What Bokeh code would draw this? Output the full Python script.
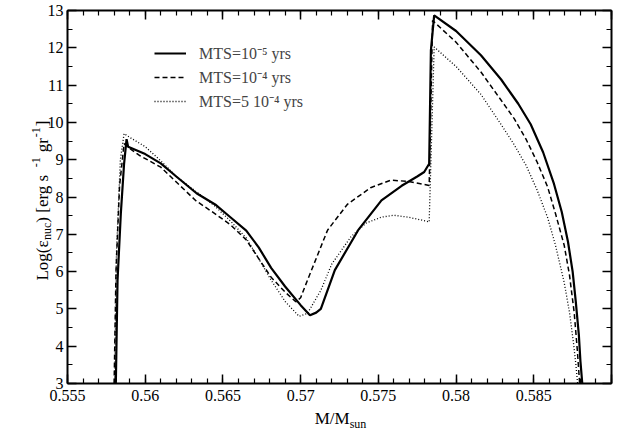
from math import pi
from bokeh.plotting import figure
from bokeh.models import Range1d, LinearAxis, FixedTicker, Label, Legend, LegendItem
from bokeh.embed import file_html
from bokeh.resources import INLINE

# ---------------- data ----------------
x_ticks = [0.555, 0.56, 0.565, 0.57, 0.575, 0.58, 0.585, 0.59]
x_tick_labels = ["0.555", "0.56", "0.565", "0.57", "0.575", "0.58", "0.585", ""]
y_ticks = [3, 4, 5, 6, 7, 8, 9, 10, 11, 12, 13]

# MTS = 1e-5 yrs (solid)
x_a = [0.55811, 0.55822, 0.55843, 0.55864, 0.55880, 0.55890, 0.5600, 0.5610, 0.5620,
       0.5633, 0.5645, 0.5655, 0.5665, 0.5673, 0.5681, 0.5690, 0.5700, 0.5706, 0.5710,
       0.5713, 0.5722, 0.5737, 0.5752, 0.5765, 0.5775, 0.57795, 0.57827, 0.57838,
       0.57859, 0.5800, 0.5816, 0.5829, 0.5840, 0.5848, 0.5856, 0.5863, 0.5868, 0.5872,
       0.5875, 0.5877, 0.5879, 0.5880, 0.58812]
y_a = [3.0, 5.77, 7.55, 8.89, 9.55, 9.35, 9.15, 8.9, 8.55,
       8.1, 7.8, 7.45, 7.1, 6.65, 6.1, 5.6, 5.1, 4.83, 4.9,
       5.0, 6.04, 7.11, 7.91, 8.3, 8.55, 8.67, 8.89, 11.93,
       12.87, 12.45, 11.8, 11.15, 10.5, 9.95, 9.2, 8.35, 7.6, 6.8,
       6.0, 5.2, 4.3, 3.6, 3.0]

# MTS = 1e-4 yrs (dashed)
x_b = [0.55800, 0.55812, 0.55835, 0.55864, 0.5590, 0.55961, 0.5610, 0.5620, 0.56326,
       0.5645, 0.5655, 0.5665, 0.5673, 0.5681, 0.5690, 0.56969, 0.5700, 0.57044, 0.57173,
       0.5730, 0.5745, 0.5758, 0.5769, 0.5778, 0.57827, 0.57849, 0.5800, 0.5816, 0.58289,
       0.58374, 0.5845, 0.5852, 0.58589, 0.5864, 0.58696, 0.5873, 0.5876, 0.5878, 0.58795]
y_b = [3.0, 6.0, 8.3, 9.43, 9.3, 9.12, 8.8, 8.4, 7.9,
       7.55, 7.25, 6.85, 6.35, 5.85, 5.45, 5.19, 5.3, 5.77, 7.11,
       7.8, 8.25, 8.45, 8.42, 8.35, 8.31, 12.73, 12.15, 11.35, 10.6,
       10.1, 9.55, 8.95, 8.27, 7.55, 6.7, 5.9, 4.9, 3.9, 3.0]

# MTS = 5 1e-4 yrs (dotted)
x_c = [0.55803, 0.55815, 0.55840, 0.55864, 0.5590, 0.5600, 0.5610, 0.5620, 0.56326,
       0.5645, 0.5655, 0.5665, 0.5673, 0.5681, 0.5690, 0.56990, 0.57044, 0.5713, 0.5720,
       0.57323, 0.5742, 0.5752, 0.5760, 0.5769, 0.5778, 0.57827, 0.57859, 0.5800,
       0.5816, 0.58289, 0.58374, 0.5845, 0.5852, 0.58589, 0.5864, 0.58696, 0.5873,
       0.58755, 0.58771, 0.58782]
y_c = [3.0, 6.5, 9.0, 9.70, 9.6, 9.35, 8.97, 8.55, 8.15,
       7.75, 7.35, 6.9, 6.35, 5.77, 5.2, 4.80, 4.88, 5.5, 6.2,
       6.93, 7.3, 7.46, 7.51, 7.46, 7.38, 7.33, 12.02, 11.5,
       10.75, 9.95, 9.4, 8.85, 8.2, 7.45, 6.7, 5.7, 4.9,
       4.1, 3.5, 3.0]

series_labels = ["MTS=10\u207b\u2075 yrs", "MTS=10\u207b\u2074 yrs", "MTS=5 10\u207b\u2074 yrs"]

FONT = "Liberation Serif"
X0, X1, Y0, Y1 = 0.555, 0.590, 3, 13

# layout: the data box occupies canvas px [67, 611] x [10, 383]
W_FIG, H_FIG = 627, 430
B_L, B_R, B_T, B_B = 67, 16, 10, 47
FX = (W_FIG - B_L - B_R) / (X1 - X0)
FY = (H_FIG - B_T - B_B) / (Y1 - Y0)

def px2x(px):
    return X0 + (px - B_L) / FX

def py2y(py):
    return Y0 + (H_FIG - B_B - py) / FY

p = figure(width=W_FIG, height=H_FIG, output_backend="svg", toolbar_location=None,
           x_range=Range1d(px2x(0), px2x(W_FIG)), y_range=Range1d(py2y(H_FIG), py2y(0)),
           min_border=0, x_axis_location=None, y_axis_location=None)
p.styles = {"position": "absolute", "left": "0px", "top": "0px"}
p.grid.visible = False
p.outline_line_color = None
p.background_fill_color = "white"
p.border_fill_color = "white"

x_minor = [round(0.555 + 0.001 * i, 3) for i in range(36)]
y_minor = [3 + 0.5 * i for i in range(21)]

bottom_axis = LinearAxis(fixed_location=Y0, bounds=(X0, X1))
top_axis = LinearAxis(fixed_location=Y1, bounds=(X0, X1))
left_axis = LinearAxis(fixed_location=X0, bounds=(Y0, Y1))
right_axis = LinearAxis(fixed_location=X1, bounds=(Y0, Y1))
p.add_layout(bottom_axis, "below")
p.add_layout(top_axis, "above")
p.add_layout(left_axis, "left")
p.add_layout(right_axis, "right")

for ax in [bottom_axis, top_axis]:
    ax.ticker = FixedTicker(ticks=x_ticks, minor_ticks=x_minor)
for ax in [left_axis, right_axis]:
    ax.ticker = FixedTicker(ticks=y_ticks, minor_ticks=y_minor)

for ax in [bottom_axis, top_axis, left_axis, right_axis]:
    ax.axis_label = None
    ax.major_tick_in = 9
    ax.major_tick_out = 0
    ax.minor_tick_in = 5
    ax.minor_tick_out = 0
    ax.axis_line_width = 2
    ax.axis_line_color = "black"
    ax.major_tick_line_width = 1.5
    ax.minor_tick_line_width = 1.2
    ax.major_label_text_font = FONT
    ax.major_label_text_font_size = "16px"
    ax.major_label_text_color = "black"

for ax in [top_axis, right_axis]:
    ax.major_label_text_font_size = "1px"
    ax.major_label_text_color = None
    ax.major_label_standoff = 0

bottom_axis.major_label_overrides = {t: l for t, l in zip(x_ticks, x_tick_labels)}
bottom_axis.major_label_standoff = 6
left_axis.major_label_standoff = 4

ra = p.line(x_a, y_a, line_color="black", line_width=2.2)
rb = p.line(x_b, y_b, line_color="black", line_width=1.5, line_dash="5 3")
rc = p.line(x_c, y_c, line_color="black", line_width=1.3, line_dash="1 2")

legend = Legend(items=[LegendItem(label=series_labels[0], renderers=[ra]),
                       LegendItem(label=series_labels[1], renderers=[rb]),
                       LegendItem(label=series_labels[2], renderers=[rc])],
                location=(87 + B_L, 271 + B_B), glyph_width=32, glyph_height=20,
                label_height=20, spacing=2, padding=0, margin=0, label_standoff=13,
                label_text_font=FONT, label_text_font_size="16px",
                border_line_color=None, background_fill_alpha=0)
p.add_layout(legend)

# ---------------- axis titles composed of pieces (sub/superscripts) ----------------
W = {" ": 250, "(": 333, ")": 333, "[": 333, "]": 333, "-": 333, "/": 278, "L": 611,
     "M": 889, "o": 500, "g": 500, "n": 500, "u": 500, "c": 444, "e": 444, "r": 333,
     "s": 389, "1": 500, "\u03b5": 440}

def tw(s, size):
    return sum(W.get(ch, 500) for ch in s) * size / 1000.0

MAIN, SMALL = 17, 12

# y title, written bottom-to-top: (text, size, baseline shift, extra gap after)
ypieces = [("Log(\u03b5", MAIN, 0, 0), ("nuc", SMALL, -4, 0), (")  [erg s", MAIN, 0, 3),
           ("-1", SMALL, 7, 5), ("gr", MAIN, 0, 1), ("-1", SMALL, 7, 1), ("]", MAIN, 0, 0)]
ytotal = sum(tw(t, s) + g for t, s, _, g in ypieces)
pos = 200.0 + ytotal / 2
base_px = 42.0
for t, s, sh, g in ypieces:
    p.add_layout(Label(x=px2x(base_px - sh), y=py2y(pos), text=t, angle=pi / 2,
                       text_font=FONT, text_font_size=f"{s}px", text_baseline="alphabetic",
                       text_align="left", text_color="black"))
    pos -= tw(t, s) + g

# x title
xpieces = [("M/M", MAIN, 0), ("sun", SMALL, -5)]
xtotal = sum(tw(t, s) for t, s, _ in xpieces)
pos = 340.0 - xtotal / 2
base_py = 418.0
for t, s, sh in xpieces:
    p.add_layout(Label(x=px2x(pos), y=py2y(base_py - sh), text=t,
                       text_font=FONT, text_font_size=f"{s}px",
                       text_baseline="alphabetic", text_align="left", text_color="black"))
    pos += tw(t, s)

open("out.html", "w").write(file_html(p, INLINE))
